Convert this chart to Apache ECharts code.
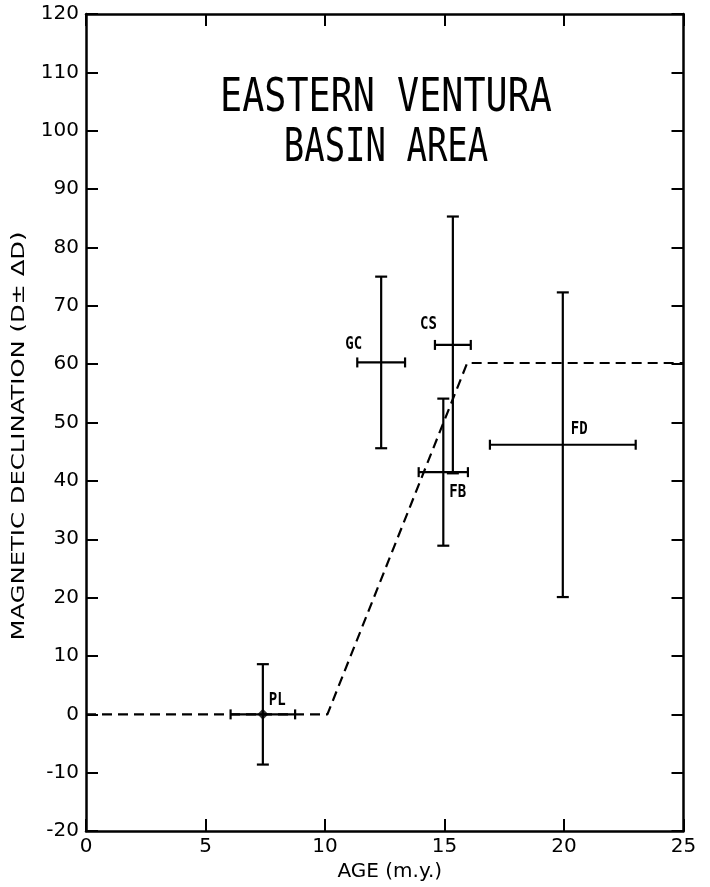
<!DOCTYPE html>
<html><head><meta charset="utf-8">
<script src="https://cdn.jsdelivr.net/npm/echarts@6/dist/echarts.min.js"></script>
<style>html,body{margin:0;padding:0;background:#fff}#c{width:710px;height:887px}</style>
</head><body><div id="c"></div>
<script>
// ---- data ----
const siteNames   = ['PL', 'GC', 'CS', 'FB', 'FD'];
const siteAge     = [7.4, 12.35, 15.35, 14.95, 19.95];
const siteAgeErr  = [1.35, 1.0, 0.75, 1.03, 3.05];
const siteDecl    = [0, 60.3, 63.3, 41.5, 46.2];
const siteDeclErr = [8.6, 14.7, 22, 12.6, 26.1];
const trendAge    = [0, 10.1, 15.95, 25];
const trendDecl   = [0, 0, 60.2, 60.2];
const xMin = 0, xMax = 25, xStep = 5;
const yMin = -20, yMax = 120, yStep = 10;
const titleLines = ['EASTERN VENTURA', 'BASIN AREA'];
const xName = 'AGE (m.y.)';
const yName = 'MAGNETIC DECLINATION (D\u00b1 \u0394D)';

// ---- style ----
const labelPlace = {
  PL: {dx: 6,  dy: -14, align: 'left'},
  GC: {dx: -19, dy: -18, align: 'right'},
  CS: {dx: -16, dy: -21, align: 'right'},
  FB: {dx: 6,  dy: 20, align: 'left'},
  FD: {dx: 8,  dy: -15, align: 'left'}
};
const titleScaleX = [1.05, 0.97];
const ink = '#000';
const axisFont = {color: ink, fontFamily: 'DejaVu Sans', fontSize: 20};

function axisBase(extra) {
  return Object.assign({
    type: 'value',
    axisLine: {show: true, onZero: false, lineStyle: {color: ink, width: 2.5}},
    axisTick: {show: true, inside: true, length: 12, lineStyle: {color: ink, width: 2}},
    splitLine: {show: false}
  }, extra);
}

const chart = echarts.init(document.getElementById('c'), null, {renderer: 'canvas'});
chart.setOption({
  backgroundColor: '#fff',
  animation: false,
  grid: {left: 86, right: 26.5, top: 14, bottom: 55.3},
  xAxis: [
    axisBase({position: 'bottom', min: xMin, max: xMax, interval: xStep,
      axisLabel: Object.assign({margin: 6}, axisFont),
      name: xName, nameLocation: 'middle', nameGap: 24,
      nameTextStyle: Object.assign({padding: [0, 0, 0, 10]}, axisFont)}),
    axisBase({position: 'top', min: xMin, max: xMax, interval: xStep, axisLabel: {show: false}})
  ],
  yAxis: [
    axisBase({position: 'left', min: yMin, max: yMax, interval: yStep,
      axisLabel: Object.assign({margin: 7}, axisFont)}),
    axisBase({position: 'right', min: yMin, max: yMax, interval: yStep, axisLabel: {show: false}})
  ],
  graphic: titleLines.map((t, i) => ({
    type: 'text', x: 386, y: 99 + i * 50, scaleY: 1.3, scaleX: titleScaleX[i], z: 10,
    style: {text: t, fontFamily: 'DejaVu Sans Mono', fontSize: 35, fill: ink,
            align: 'center', verticalAlign: 'middle'}
  })).concat([{
    type: 'text', x: 19, y: 436, rotation: Math.PI / 2, scaleX: 1.35, z: 10,
    style: {text: yName, fontFamily: 'DejaVu Sans', fontSize: 18, fill: ink,
            align: 'center', verticalAlign: 'middle'}
  }]),
  series: [
    {
      type: 'line', xAxisIndex: 0, yAxisIndex: 0,
      data: trendAge.map((a, i) => [a, trendDecl[i]]),
      symbol: 'none', silent: true,
      lineStyle: {color: ink, width: 2.2, type: [10, 6]}
    },
    {
      type: 'custom', xAxisIndex: 0, yAxisIndex: 0,
      data: siteNames.map((n, i) => [siteAge[i], siteAgeErr[i], siteDecl[i], siteDeclErr[i]]),
      encode: {x: 0, y: 2},
      clip: false,
      renderItem: function (params, api) {
        const x = api.value(0), dx = api.value(1), y = api.value(2), dy = api.value(3);
        const c = api.coord([x, y]);
        const t = api.coord([x, y + dy]), b = api.coord([x, y - dy]);
        const l = api.coord([x - dx, y]), r = api.coord([x + dx, y]);
        const st = {stroke: ink, lineWidth: 2.2};
        const cap = 6, hcap = 5;
        const name = siteNames[params.dataIndex];
        const lp = labelPlace[name];
        const line = (x1, y1, x2, y2) => ({type: 'line', shape: {x1, y1, x2, y2}, style: st});
        return {
          type: 'group',
          children: [
            line(t[0], t[1], b[0], b[1]),
            line(t[0] - cap, t[1], t[0] + cap, t[1]),
            line(b[0] - cap, b[1], b[0] + cap, b[1]),
            line(l[0], l[1], r[0], r[1]),
            line(l[0], l[1] - hcap, l[0], l[1] + hcap),
            line(r[0], r[1] - hcap, r[0], r[1] + hcap),
            {type: 'text', x: c[0] + lp.dx, y: c[1] + lp.dy, scaleY: 1.3,
             style: {text: name, fontFamily: 'DejaVu Sans Mono', fontWeight: 'bold', fontSize: 14,
                     fill: ink, align: lp.align, verticalAlign: 'middle'}}
          ]
        };
      }
    },
    {
      type: 'scatter', xAxisIndex: 0, yAxisIndex: 0,
      data: [[siteAge[0], siteDecl[0]]],
      symbol: 'diamond', symbolSize: 11,
      itemStyle: {color: ink}
    }
  ]
});
</script></body></html>
